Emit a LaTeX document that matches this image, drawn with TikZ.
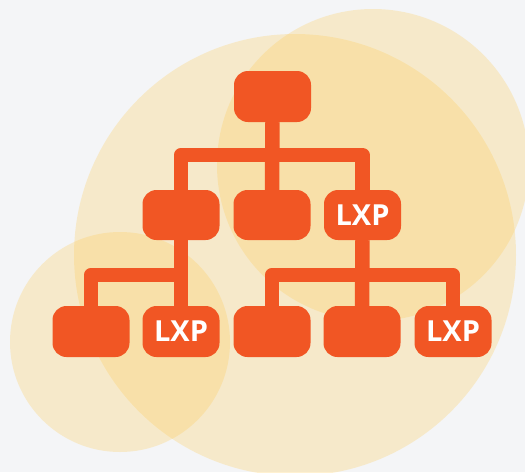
\documentclass[tikz,border=0pt]{standalone}
\usepackage{fontspec}
\setmainfont{Open Sans}
\definecolor{bgc}{HTML}{F4F5F7}
\definecolor{blob}{HTML}{FFC947}
\definecolor{org}{HTML}{F15624}
\tikzset{
  box/.style={fill=org, rounded corners=14pt, minimum width=77pt, minimum height=51pt,
    inner sep=0pt, text=white, font=\fontsize{29}{29}\selectfont\bfseries},
  conn/.style={draw=org, line width=14.5pt, line join=round},
  bubble/.style={fill=blob, fill opacity=0.25}
}
\begin{document}
\begin{tikzpicture}[x=1pt,y=-1pt]
  \useasboundingbox (0,0) rectangle (525,472);
  \fill[bgc] (0,0) rectangle (525,472);
  % soft background bubbles
  \begin{scope}
    \clip (0,0) rectangle (525,472);
    \fill[bubble] (295,255) circle[radius=221];
    \fill[bubble] (373,165) circle[radius=156];
    \fill[bubble] (120,342) circle[radius=110];
  \end{scope}
  % tree nodes
  \node[box] (root) at (272.5,96.5) {};
  \node[box, minimum height=50pt] (ma) at (181,215) {};
  \node[box, minimum height=50pt] (mb) at (272,215) {};
  \node[box, minimum height=50pt] (mc) at (362.5,215) {LXP};
  \node[box] (la) at (91,331.5) {};
  \node[box] (lb) at (181,331.5) {LXP};
  \node[box] (lc) at (272,331.5) {};
  \node[box] (ld) at (362,331.5) {};
  \node[box] (le) at (453,331.5) {LXP};
  % bus lines
  \coordinate (bus1) at (272.5,155);
  \coordinate (bus2) at (181,275);
  \coordinate (bus3) at (362,275);
  % connectors
  \draw[conn] (root.south) -- (mb.north);
  \draw[conn] (ma.north) |- (bus1) -| (mc.north);
  \draw[conn] (ma.south) -- (lb.north);
  \draw[conn] (la.north) |- (bus2);
  \draw[conn] (mc.south) -- (ld.north);
  \draw[conn] (lc.north) |- (bus3) -| (le.north);
\end{tikzpicture}
\end{document}
